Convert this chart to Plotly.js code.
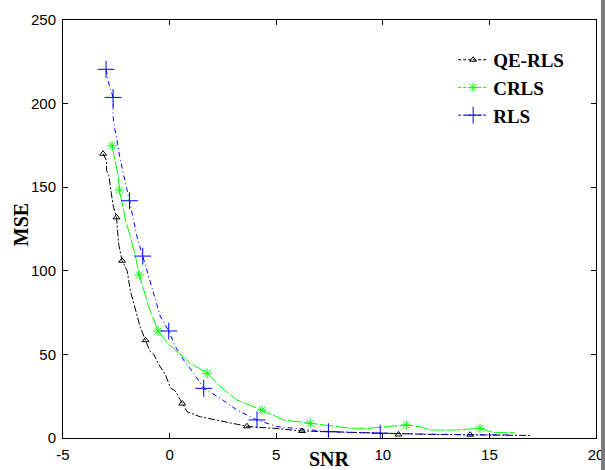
<!DOCTYPE html>
<html>
<head>
<meta charset="utf-8">
<script src="https://cdn.plot.ly/plotly-3.0.1.min.js"></script>
<style>
html,body{margin:0;padding:0;background:#fff;}
#chart{width:605px;height:470px;}
#edge{position:absolute;right:0;top:0;width:4px;height:470px;background:#7a7a7a;}
</style>
</head>
<body>
<div id="chart"></div>
<div id="edge"></div>
<script>
// QE-RLS (black)
const qeX = [-3.12, -2.96, -2.96, -2.85, -2.74, -2.65, -2.49, -2.46, -2.39, -2.23, -1.99, -1.84, -1.60, -1.37, -1.13, -0.93, -0.74, -0.51, -0.20, 0.04, 0.27, 0.59, 0.82, 1.44, 2.69, 3.63, 4.10, 4.88, 6.21, 7.21, 8.5, 9.9, 10.74, 12.0, 13.4, 14.1, 15.0, 16.9];
const qeY = [170, 166, 160, 157, 147, 139, 132, 127, 116, 106, 100, 88, 76, 66, 58.5, 52, 50, 44, 38, 30, 28, 20.6, 15.7, 12.7, 9.7, 7.0, 6.4, 5.8, 4.2, 3.8, 3.2, 2.8, 2.3, 2.2, 2.0, 1.9, 1.6, 1.5];
const qeMX = [-3.12, -2.49, -2.23, -1.13, 0.59, 3.63, 6.21, 10.74, 14.1];
const qeMY = [170, 132, 106, 58.5, 20.6, 7.0, 4.2, 2.1, 2.0];
// CRLS (green)
const crX = [-2.70, -2.54, -2.43, -2.35, -2.23, -2.07, -1.84, -1.60, -1.42, -1.21, -0.98, -0.74, -0.54, -0.12, 0.35, 0.98, 1.76, 2.38, 3.16, 4.33, 5.35, 6.60, 7.5, 8.47, 9.3, 10.25, 11.1, 11.75, 12.2, 13.5, 14.56, 15.2, 16.2];
const crY = [174.8, 166, 158, 148.3, 140.3, 130.4, 120.4, 108.4, 97.5, 88.5, 78.5, 70.6, 64, 57, 51.6, 44.7, 38.7, 30.7, 22.7, 16.7, 10.8, 8.8, 7.3, 5.8, 5.8, 6.8, 7.8, 6.8, 4.8, 4.8, 5.8, 3.2, 3.2];
const crMX = [-2.70, -2.35, -1.42, -0.54, 1.76, 4.33, 6.60, 11.1, 14.56];
const crMY = [174.8, 148.3, 97.5, 64, 38.7, 16.7, 8.8, 7.8, 5.8];
// RLS (blue)
const rlsX = [-2.98, -2.85, -2.65, -2.65, -2.59, -2.49, -2.34, -2.15, -1.99, -1.88, -1.71, -1.52, -1.26, -0.98, -0.74, -0.43, -0.04, 0.27, 0.66, 1.13, 1.60, 2.38, 3.16, 4.10, 5.04, 5.97, 7.45, 8.5, 9.88, 12, 14, 16];
const rlsY = [220.5, 212, 203.7, 192, 186, 180, 168, 156, 148, 141.9, 132.3, 120, 108.8, 96.5, 86.5, 72.5, 64, 54.6, 46.6, 38.7, 29.7, 23.7, 16.7, 10.8, 6.8, 5.8, 3.8, 3.3, 2.8, 2.3, 2.0, 1.8];
const rlsMX = [-2.98, -2.65, -1.88, -1.26, -0.04, 1.60, 4.10, 7.45, 9.88];
const rlsMY = [220.5, 203.7, 141.9, 108.8, 64, 29.7, 10.8, 3.8, 2.8];

const names = ['QE-RLS', 'CRLS', 'RLS'];
const xTicks = [-5, 0, 5, 10, 15, 20];
const yTicks = [0, 50, 100, 150, 200, 250];

const K = '#000000', G = '#00ff00', B = '#0000ff';
const mk = {
  qe: {symbol: 'triangle-up-open', size: 6, color: K, line: {color: K, width: 1}},
  cr: {symbol: 'asterisk-open', size: 8, color: G, line: {color: G, width: 1}},
  rl: {symbol: 'cross-thin-open', size: 12, color: B, line: {color: B, width: 1}}
};
const dashes = {qe: '7px,2px,2px,2px', cr: '14px,2px', rl: '5px,3px,1px,3px'};

const traces = [
  {x: qeX, y: qeY, mode: 'lines', line: {color: K, width: 1, dash: dashes.qe}, showlegend: false, hoverinfo: 'skip'},
  {x: crX, y: crY, mode: 'lines', line: {color: G, width: 1, dash: dashes.cr}, showlegend: false, hoverinfo: 'skip'},
  {x: rlsX, y: rlsY, mode: 'lines', line: {color: B, width: 1, dash: dashes.rl}, showlegend: false, hoverinfo: 'skip'},
  {x: qeMX, y: qeMY, mode: 'markers', marker: mk.qe, showlegend: false},
  {x: crMX, y: crMY, mode: 'markers', marker: mk.cr, showlegend: false},
  {x: rlsMX, y: rlsMY, mode: 'markers', marker: mk.rl, showlegend: false},
  {x: [null], y: [null], name: names[0], mode: 'lines+markers', line: {color: K, width: 1, dash: '3px,2px'}, marker: mk.qe},
  {x: [null], y: [null], name: names[1], mode: 'lines+markers', line: {color: G, width: 1, dash: '3px,2px'}, marker: mk.cr},
  {x: [null], y: [null], name: names[2], mode: 'lines+markers', line: {color: B, width: 1, dash: '3px,2px'}, marker: mk.rl}
];

const axisCommon = {
  showline: true, linecolor: '#000', linewidth: 1, mirror: 'ticks',
  ticks: 'inside', ticklen: 5, tickwidth: 1, tickcolor: '#000',
  showgrid: false, zeroline: false,
  tickfont: {family: 'Liberation Sans, Arial, sans-serif', size: 15, color: '#000'}
};

const layout = {
  width: 605, height: 470,
  margin: {l: 62.5, r: 9, t: 20, b: 32},
  paper_bgcolor: '#fff', plot_bgcolor: '#fff',
  xaxis: Object.assign({}, axisCommon, {range: [-5, 20], tickvals: xTicks, ticktext: xTicks.map(String), ticklabelstandoff: 3}),
  yaxis: Object.assign({}, axisCommon, {range: [0, 250], tickvals: yTicks, ticktext: yTicks.map(String), ticklabelstandoff: 3}),
  legend: {x: 0.732, y: 0.95, xanchor: 'left', yanchor: 'top', bgcolor: 'rgba(0,0,0,0)', borderwidth: 0,
    font: {family: 'Liberation Serif, Times New Roman, serif', size: 19, color: '#000', weight: 'bold'}},
  annotations: [
    {text: 'SNR', xref: 'paper', yref: 'paper', x: 0.5, y: -0.018, xanchor: 'center', yanchor: 'top', showarrow: false,
     font: {family: 'Liberation Serif, Times New Roman, serif', size: 20, color: '#000', weight: 'bold'}},
    {text: 'MSE', xref: 'paper', yref: 'paper', x: -0.08, y: 0.51, xanchor: 'center', yanchor: 'middle', textangle: -90, showarrow: false,
     font: {family: 'Liberation Serif, Times New Roman, serif', size: 20, color: '#000', weight: 'bold'}}
  ]
};

Plotly.newPlot('chart', traces, layout, {displayModeBar: false, staticPlot: true});
</script>
</body>
</html>
